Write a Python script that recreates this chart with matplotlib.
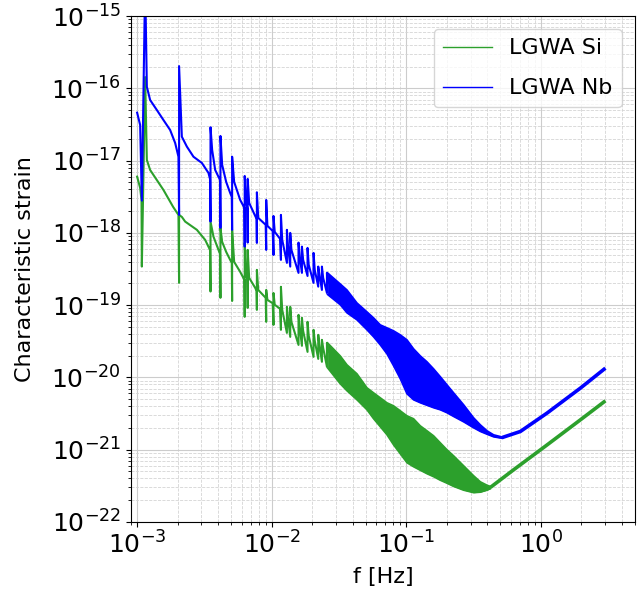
import numpy as np
import matplotlib
matplotlib.use("Agg")
import matplotlib.pyplot as plt

# lunar normal mode frequencies [Hz] where both curves spike
modes_f = [2.05e-3, 3.51e-3, 4.16e-3, 5.08e-3, 6.30e-3, 6.63e-3, 7.76e-3,
           9.10e-3, 1.031e-2, 1.171e-2, 1.297e-2, 1.373e-2, 1.582e-2,
           1.677e-2, 1.846e-2, 2.046e-2, 2.217e-2, 2.361e-2, 2.573e-2]

# LGWA Nb: spikes and the smooth part between them
nb_dip = [1.77e-18, 1.43e-18, 1.17e-18, 1.10e-18, 6.44e-19, 7.32e-19, 7.25e-19,
          5.80e-19, 4.94e-19, 4.22e-19, 3.84e-19, 3.41e-19, 2.79e-19,
          2.79e-19, 2.53e-19, 2.03e-19, 1.80e-19, 1.62e-19, 1.47e-19]
nb_peak = [2.03e-16, 2.89e-17, 2.19e-17, 1.13e-17, 6.12e-18, 5.57e-18, 3.64e-18,
           2.85e-18, 1.71e-18, 1.77e-18, 1.10e-18, 9.97e-19, 7.32e-19,
           6.44e-19, 6.18e-19, 5.27e-19, 3.41e-19, 3.41e-19, 2.79e-19]
nb_base_f = [1.000e-3, 1.053e-3, 1.084e-3, 1.147e-3, 1.181e-3, 1.249e-3, 1.401e-3,
             1.569e-3, 1.759e-3, 1.917e-3, 2.028e-3, 2.149e-3, 2.342e-3, 2.622e-3,
             3.027e-3, 3.390e-3, 3.48e-3, 3.61e-3, 3.802e-3, 4.13e-3, 4.285e-3,
             4.589e-3, 4.914e-3, 5.05e-3, 5.26e-3, 5.832e-3, 6.27e-3, 6.46e-3,
             6.60e-3, 6.80e-3, 7.54e-3, 7.72e-3, 7.94e-3, 9.02e-3, 9.29e-3,
             1.017e-2, 1.053e-2, 1.155e-2, 1.197e-2, 1.322e-2, 1.401e-2, 1.616e-2,
             1.712e-2, 1.884e-2, 2.088e-2, 2.263e-2, 2.411e-2, 2.63e-2]
nb_base_h = [4.60e-17, 3.11e-17, 2.79e-18, 3e-15, 1.05e-16, 6.89e-17, 5.01e-17,
             3.64e-17, 2.65e-17, 1.75e-17, 1.13e-17, 2.14e-17, 1.56e-17, 1.13e-17,
             9.27e-18, 6.74e-18, 5.57e-18, 1.40e-17, 7.41e-18, 5.39e-18, 8.69e-18,
             5.06e-18, 3.56e-18, 3.14e-18, 5.06e-18, 2.85e-18, 2.21e-18, 2.85e-18,
             2.07e-18, 2.59e-18, 1.71e-18, 1.56e-18, 1.61e-18, 1.29e-18, 1.25e-18,
             1.06e-18, 1.03e-18, 8.23e-19, 7.98e-19, 6.59e-19, 5.80e-19, 4.64e-19,
             4.22e-19, 3.60e-19, 3.07e-19, 2.62e-19, 2.38e-19, 2.03e-19]
# dense part: envelope of the oscillations
nb_band_f = [2.60e-2, 3.231e-2, 3.624e-2, 4.300e-2, 5.104e-2, 5.714e-2, 6.408e-2,
             7.186e-2, 8.047e-2, 9.025e-2, 0.1012, 0.1133, 0.1271, 0.1425, 0.1596,
             0.1790, 0.2007, 0.2247, 0.2667, 0.3166, 0.3550, 0.3981, 0.4457, 0.5173]
nb_band_hi = [2.79e-19, 1.96e-19, 1.62e-19, 1.07e-19, 8.05e-20, 6.65e-20, 5.32e-20,
              4.84e-20, 4.40e-20, 3.87e-20, 3.30e-20, 2.48e-20, 1.98e-20, 1.64e-20,
              1.31e-20, 1.02e-20, 7.87e-21, 6.10e-21, 4.17e-21, 2.75e-21, 2.20e-21,
              1.82e-21, 1.60e-21, 1.49e-21]
nb_band_lo = [1.40e-19, 1.01e-19, 7.80e-20, 6.24e-20, 4.54e-20, 3.63e-20, 2.81e-20,
              2.11e-20, 1.44e-20, 9.54e-21, 5.91e-21, 4.88e-21, 4.44e-21, 4.10e-21,
              3.79e-21, 3.55e-21, 3.23e-21, 2.87e-21, 2.42e-21, 2.00e-21, 1.78e-21,
              1.63e-21, 1.50e-21, 1.43e-21]
nb_tail_f = [0.5173, 0.7042, 1.112, 1.967, 3.017]
nb_tail_h = [1.47e-21, 1.78e-21, 3.20e-21, 7.09e-21, 1.34e-20]

# LGWA Si
si_dip = [2.03e-19, 1.54e-19, 1.26e-19, 1.14e-19, 6.87e-20, 9.15e-20, 8.58e-20,
          5.86e-20, 5.32e-20, 4.54e-20, 4.12e-20, 3.63e-20, 2.81e-20,
          2.73e-20, 2.25e-20, 1.92e-20, 1.80e-20, 1.64e-20, 1.40e-20]
si_peak = [1.77e-18, 1.43e-18, 1.17e-18, 1.10e-18, 7.25e-19, 5.80e-19, 3.07e-19,
           1.62e-19, 1.47e-19, 1.79e-19, 9.44e-20, 9.44e-20, 7.32e-20,
           6.65e-20, 5.86e-20, 4.54e-20, 3.87e-20, 3.30e-20, 3.00e-20]
si_base_f = [1.000e-3, 1.053e-3, 1.078e-3, 1.084e-3, 1.147e-3, 1.181e-3, 1.249e-3,
             1.569e-3, 1.853e-3, 2.028e-3, 2.149e-3, 2.275e-3, 2.779e-3, 3.203e-3,
             3.48e-3, 3.692e-3, 4.023e-3, 4.13e-3, 4.285e-3, 4.589e-3, 4.914e-3,
             5.05e-3, 5.26e-3, 5.832e-3, 6.27e-3, 6.46e-3, 6.60e-3, 6.80e-3,
             7.54e-3, 7.72e-3, 7.94e-3, 9.02e-3, 9.29e-3, 1.017e-2, 1.053e-2,
             1.155e-2, 1.197e-2, 1.322e-2, 1.401e-2, 1.616e-2, 1.712e-2, 1.884e-2,
             2.088e-2, 2.263e-2, 2.411e-2, 2.63e-2]
si_base_h = [5.99e-18, 4.18e-18, 2.85e-18, 3.41e-19, 1.43e-16, 1.02e-17, 7.41e-18,
             3.92e-18, 2.28e-18, 1.77e-18, 1.66e-18, 1.43e-18, 1.10e-18, 7.98e-19,
             5.80e-19, 8.86e-19, 5.80e-19, 5.11e-19, 7.48e-19, 5.44e-19, 4.22e-19,
             3.84e-19, 3.96e-19, 2.88e-19, 2.23e-19, 2.53e-19, 2.30e-19, 2.38e-19,
             1.73e-19, 1.57e-19, 1.62e-19, 1.26e-19, 1.18e-19, 1.06e-19, 1.01e-19,
             8.86e-20, 8.58e-20, 6.65e-20, 5.86e-20, 4.84e-20, 4.40e-20, 3.75e-20,
             3.20e-20, 2.81e-20, 2.56e-20, 2.25e-20]
si_band_f = [2.60e-2, 3.231e-2, 3.624e-2, 4.300e-2, 5.104e-2, 5.714e-2, 6.408e-2,
             7.186e-2, 8.047e-2, 9.025e-2, 0.1012, 0.1133, 0.1271, 0.1425, 0.1596,
             0.1790, 0.2007, 0.2247, 0.2667, 0.3166, 0.3550, 0.3981, 0.4212]
si_band_hi = [3.00e-20, 1.98e-20, 1.49e-20, 1.12e-20, 7.16e-21, 6.10e-21, 5.21e-21,
              4.44e-21, 4.03e-21, 3.44e-21, 2.93e-21, 2.67e-21, 2.13e-21, 1.82e-21,
              1.55e-21, 1.24e-21, 9.94e-22, 8.20e-22, 5.97e-22, 4.34e-22, 3.58e-22,
              3.21e-22, 3.09e-22]
si_band_lo = [1.35e-20, 8.13e-21, 6.51e-21, 4.88e-21, 3.55e-21, 2.67e-21, 2.07e-21,
              1.60e-21, 1.16e-21, 8.74e-22, 6.57e-22, 5.78e-22, 5.17e-22, 4.63e-22,
              4.21e-22, 3.76e-22, 3.42e-22, 3.09e-22, 2.74e-22, 2.53e-22, 2.57e-22,
              2.74e-22, 2.87e-22]
si_tail_f = [0.4212, 0.6281, 1.112, 1.967, 3.017]
si_tail_h = [2.99e-22, 5.26e-22, 1.16e-21, 2.58e-21, 4.73e-21]


def spiky(base_f, base_h, dip, peak):
    # smooth points plus a dip->peak jump at every mode
    pts = [(f, 0, h) for f, h in zip(base_f, base_h)]
    pts += [(f, 1, h) for f, h in zip(modes_f, dip)]
    pts += [(f, 2, h) for f, h in zip(modes_f, peak)]
    pts.sort()
    return [p[0] for p in pts], [p[2] for p in pts]


green = "#2ca02c"
blue = "#0000ff"

fig = plt.figure(figsize=(6.42, 5.95), dpi=100)
ax = fig.add_axes([0.204, 0.123, 0.785, 0.850])

for base_f, base_h, dip, peak, bf, blo, bhi, tf, th, c, lab in [
        (si_base_f, si_base_h, si_dip, si_peak, si_band_f, si_band_lo, si_band_hi,
         si_tail_f, si_tail_h, green, "LGWA Si"),
        (nb_base_f, nb_base_h, nb_dip, nb_peak, nb_band_f, nb_band_lo, nb_band_hi,
         nb_tail_f, nb_tail_h, blue, "LGWA Nb")]:
    f, h = spiky(base_f, base_h, dip, peak)
    ax.plot(f, h, color=c, lw=1.5, label=lab)
    ax.fill_between(bf, blo, bhi, color=c, lw=0)
    ax.plot(bf, bhi, color=c, lw=1.2)
    ax.plot(bf, blo, color=c, lw=1.2)
    ax.plot(tf, th, color=c, lw=2.6, solid_capstyle="butt")

ax.set_xscale("log")
ax.set_yscale("log")
ax.set_xlim(9e-4, 5.0)
ax.set_ylim(1e-22, 1e-15)
ax.grid(True, which="major", color="#cccccc", lw=0.8)
ax.grid(True, which="minor", color="#d4d4d4", lw=0.6, ls="--")
ax.set_axisbelow(True)
ax.tick_params(labelsize=18)
ax.set_xlabel("f [Hz]", fontsize=16, labelpad=6)
ax.set_ylabel("Characteristic strain", fontsize=16, labelpad=12)
leg = ax.legend(fontsize=16, loc="upper right", handlelength=2.2,
                labelspacing=0.9, borderaxespad=0.6)
for ln in leg.get_lines():
    ln.set_linewidth(1.0)

fig.savefig("out.png", dpi=100)
